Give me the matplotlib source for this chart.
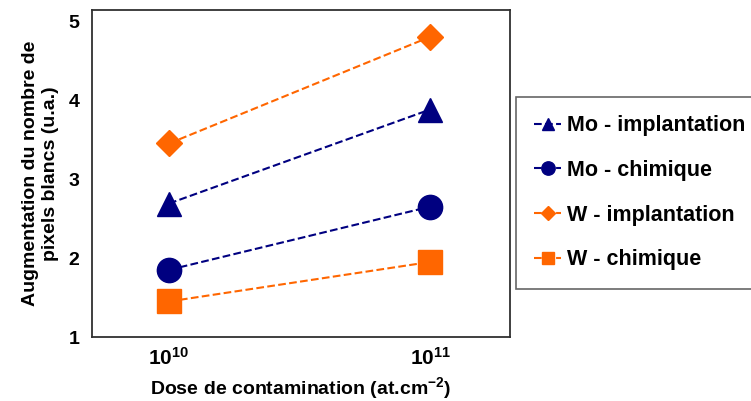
import matplotlib
matplotlib.use("Agg")
import matplotlib.pyplot as plt

# donnees
dose = [1e10, 1e11]
mo_implantation = [2.69, 3.88]
mo_chimique = [1.85, 2.65]
w_implantation = [3.45, 4.80]
w_chimique = [1.45, 1.95]

navy = '#000080'
orange = '#FF6600'

plt.rcParams['font.family'] = ['Liberation Sans', 'DejaVu Sans']
plt.rcParams['mathtext.fontset'] = 'custom'
plt.rcParams['mathtext.rm'] = 'Liberation Sans:bold'
plt.rcParams['mathtext.bf'] = 'Liberation Sans:bold'
plt.rcParams['mathtext.it'] = 'Liberation Sans:bold'

fig = plt.figure(figsize=(7.51, 4.01), dpi=100)
ax = fig.add_axes([92/751, 1-337/401, (510-92)/751, (337-10)/401])

ax.plot(dose, mo_implantation, '--', color=navy, lw=1.5, marker='^', markersize=17, label='Mo - implantation')
ax.plot(dose, mo_chimique, '--', color=navy, lw=1.5, marker='o', markersize=17.5, label='Mo - chimique')
ax.plot(dose, w_implantation, '--', color=orange, lw=1.5, marker='D', markersize=13.5, label='W - implantation')
ax.plot(dose, w_chimique, '--', color=orange, lw=1.5, marker='s', markersize=17, label='W - chimique')

ax.set_xscale('log')
ax.set_xlim(10**9.705, 10**11.306)
ax.set_ylim(1, 5.14)
ax.set_xticks([1e10, 1e11])
ax.set_xticklabels([r'$\mathbf{10^{10}}$', r'$\mathbf{10^{11}}$'], fontsize=15)
ax.minorticks_off()
ax.set_yticks([1, 2, 3, 4, 5])
ax.tick_params(axis='y', length=0, labelsize=14, pad=9)
ax.tick_params(axis='x', length=0, pad=7)
for lab in ax.get_yticklabels():
    lab.set_fontweight('bold')
ax.set_xlabel('Dose de contamination (at.cm$^{-2}$)', fontsize=14, fontweight='bold', labelpad=5)
ax.set_ylabel('Augmentation du nombre de\npixels blancs (u.a.)', fontsize=14, fontweight='bold', labelpad=7)
for s in ax.spines.values():
    s.set_color('#303030')
    s.set_linewidth(1.3)

leg = ax.legend(loc='upper left', bbox_to_anchor=(516/751, 1-97/401), bbox_transform=fig.transFigure,
                frameon=True, fancybox=False, edgecolor='#404040',
                prop={'weight': 'bold', 'size': 15.5}, handlelength=1.25, markerscale=0.55,
                labelspacing=1.1, borderpad=0.85, handletextpad=0.25, borderaxespad=0)
leg.get_frame().set_linewidth(1.2)

fig.savefig('out.png', dpi=100)
